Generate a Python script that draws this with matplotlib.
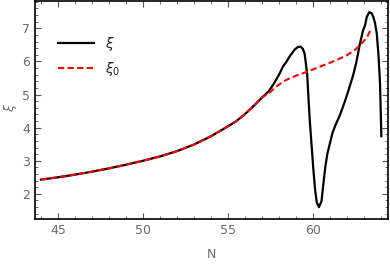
import matplotlib
matplotlib.use("Agg")
import matplotlib.pyplot as plt
from matplotlib.ticker import MultipleLocator

# Shared part (both curves coincide)
N_common = [44, 45, 46, 47, 48, 49, 50, 51, 52, 53, 54, 55, 55.5, 56, 56.5, 57]
xi_common = [2.43, 2.50, 2.58, 2.67, 2.77, 2.88, 3.00, 3.13, 3.29, 3.49, 3.74, 4.04, 4.20, 4.41, 4.65, 4.91]

# xi after departure
N_xi_tail = [57.4, 57.7, 58.0, 58.25, 58.45, 58.65, 58.94, 59.1, 59.27, 59.4, 59.5, 59.59,
             59.66, 59.72, 59.82, 59.92, 60.02, 60.12, 60.22, 60.35, 60.5, 60.61, 60.72,
             60.84, 61.0, 61.15, 61.29, 61.59, 61.88, 62.1, 62.37, 62.55, 62.76, 62.95,
             63.06, 63.16, 63.31, 63.45, 63.55, 63.65, 63.75, 63.85, 63.94, 64.02]
xi_tail = [5.10, 5.33, 5.60, 5.86, 6.00, 6.17, 6.37, 6.43, 6.45, 6.38, 6.25, 5.90,
           5.59, 5.00, 4.14, 3.44, 2.74, 2.14, 1.74, 1.60, 1.78, 2.30, 2.80,
           3.20, 3.54, 3.85, 4.04, 4.39, 4.80, 5.15, 5.60, 5.98, 6.54, 6.95,
           7.09, 7.34, 7.49, 7.45, 7.34, 7.15, 6.84, 6.20, 5.34, 3.74]

# xi0 after departure
N_xi0_tail = [57.5, 57.75, 58.0, 58.25, 58.5, 59.0, 59.5, 60.0, 60.5, 61.0, 61.5, 62.0,
              62.5, 63.0, 63.2, 63.4]
xi0_tail = [5.08, 5.20, 5.30, 5.39, 5.46, 5.57, 5.66, 5.76, 5.86, 5.96, 6.07, 6.19,
            6.36, 6.62, 6.76, 6.96]

N_xi = N_common + N_xi_tail
xi = xi_common + xi_tail
N_xi0 = N_common + N_xi0_tail
xi0 = xi_common + xi0_tail

gray = "#6a6a6a"

fig = plt.figure(figsize=(3.9, 2.66), dpi=100)
ax = fig.add_axes([35/390, 47/266, 353/390, 219/266 - 0.002])

ax.plot(N_xi, xi, color="black", lw=1.6, label=r"$\xi$", zorder=2)
ax.plot(N_xi0, xi0, color="red", lw=1.5, dashes=(3, 1.6), label=r"$\xi_0$", zorder=3)

ax.set_xlim(43.65, 64.41)
ax.set_ylim(1.24, 7.84)

ax.xaxis.set_major_locator(MultipleLocator(5))
ax.xaxis.set_minor_locator(MultipleLocator(1))
ax.yaxis.set_major_locator(MultipleLocator(1))
ax.yaxis.set_minor_locator(MultipleLocator(0.2))
ax.tick_params(which="both", direction="in", top=True, right=True,
               labelcolor=gray, labelsize=9, color="#555555")
ax.tick_params(which="major", length=4, width=0.8)
ax.tick_params(which="minor", length=2, width=0.6)
for s in ax.spines.values():
    s.set_linewidth(1.2)

ax.set_xlabel("N", color=gray, fontsize=9, labelpad=8)
ax.set_ylabel(r"$\xi$", color=gray, fontsize=9)
ax.yaxis.set_label_coords(-0.045, 0.51)

leg = ax.legend(loc="upper left", bbox_to_anchor=(0.03, 0.9), frameon=False,
                handlelength=2.6, fontsize=10, labelspacing=0.5)
for t in leg.get_texts():
    t.set_color("#222222")

fig.savefig("out.png", dpi=100)
